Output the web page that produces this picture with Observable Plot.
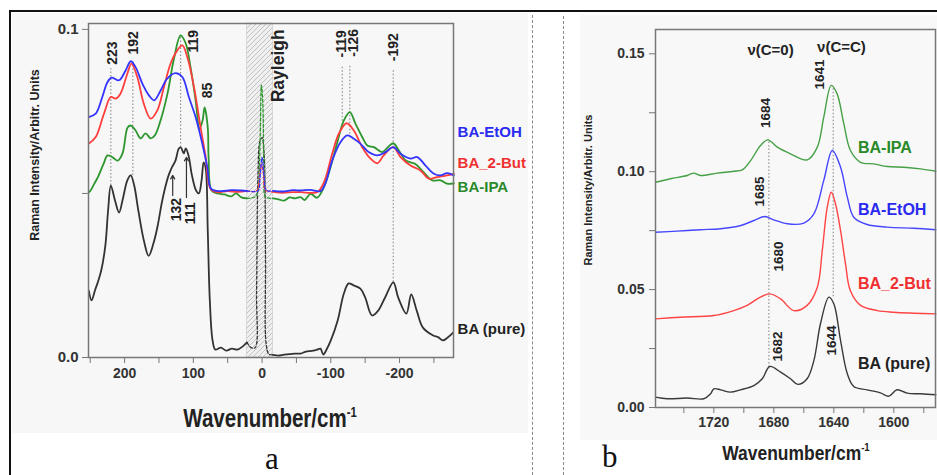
<!DOCTYPE html>
<html>
<head>
<meta charset="utf-8">
<script src="https://cdn.jsdelivr.net/npm/d3@7"></script>
<script src="https://cdn.jsdelivr.net/npm/@observablehq/plot@0.6"></script>
<style>
  html, body { margin: 0; padding: 0; background: #fff; }
  #page { position: relative; width: 937px; height: 475px; overflow: hidden; background: #fff;
          font-family: "Liberation Sans", Arial, sans-serif; }
  .abs { position: absolute; }
  .ttl { position: absolute; font-weight: bold; white-space: nowrap; line-height: 1; color: #222; }
  .ttl sup { font-size: 0.55em; line-height: 0; vertical-align: 0.75em; }
  .panelLetter { position: absolute; font-family: "Liberation Serif", "Times New Roman", serif; font-size: 31px; line-height: 26px; height: 26px; color: #111; }
</style>
</head>
<body>
<div id="page">
  <div class="abs" style="left:12px;top:13px;width:516px;height:420px;background:#f7f7f7"></div>
  <div class="abs" style="left:580px;top:15px;width:357px;height:425px;background:#f8f8f8"></div>
  <div id="plotA" class="abs" style="left:0;top:0;width:533px;height:440px"></div>
  <div id="plotB" class="abs" style="left:560px;top:0;width:377px;height:440px"></div>
  <div class="abs" style="left:9px;top:10px;width:928px;height:2px;background:#111"></div>
  <div class="abs" style="left:9px;top:10px;width:2px;height:465px;background:#111"></div>
  <div class="abs" style="left:532px;top:15px;height:460px;border-left:1px dashed #8a8a8a"></div>
  <div class="abs" style="left:563px;top:16px;height:459px;border-left:1px dashed #8a8a8a"></div>
  <div class="ttl" style="left:270px;top:406px;font-size:25px;transform:translateX(-50%) scaleX(0.82);transform-origin:50% 50%">Wavenumber/cm<sup>-1</sup></div>
  <div class="ttl" style="left:796px;top:442px;font-size:21px;transform:translateX(-50%) scaleX(0.83);transform-origin:50% 50%">Wavenumber/cm<sup>-1</sup></div>
  <div class="ttl" style="left:35px;top:155px;font-size:12.5px;transform:translate(-50%,-50%) rotate(-90deg)">Raman Intensity/Arbitr. Units</div>
  <div class="ttl" style="left:588px;top:190px;font-size:11px;transform:translate(-50%,-50%) rotate(-90deg)">Raman Intensity/Arbitr. Units</div>
  <div class="panelLetter" style="left:265px;top:446px">a</div>
  <div class="panelLetter" style="left:602px;top:444px">b</div>
</div>
<script>
// ---------------- Panel a data (low-frequency Raman) ----------------
const aMajorX = [200, 100, 0, -100, -200];
const aMajorXLabels = ["200", "100", "0", "-100", "-200"];
const aMinorX = [250, 150, 50, -50, -150, -250];
const aYTicks = [0, 0.1];
const aYLabels = ["0.0", "0.1"];
const aYMinor = [0.05];
const aRayleigh = [[22, -16]];

const aPureL = [[252,0.0204],[248,0.0174],[243,0.0205],[239,0.0229],[234,0.0265],[228,0.0341],[224,0.0448],[220,0.0524],[214,0.0479],[208,0.0442],[203,0.0479],[196,0.054],[191,0.0555],[186,0.0524],[180,0.0448],[172,0.0357],[165,0.031],[158,0.0348],[152,0.040],[146,0.047],[142,0.0509],[136,0.0555],[132,0.0576],[126,0.06],[121,0.0637],[118,0.064],[114,0.0622],[111,0.0637],[107,0.0616],[102,0.0555],[96,0.0509],[92,0.05],[88,0.054],[85,0.0595],[82,0.0576],[79,0.0387],[76,0.0174],[72,0.0052],[68,0.0024],[60,0.003],[52,0.0021],[44,0.0027],[36,0.0024],[28,0.0034],[22,0.0046]];
const aPureRay = [[22,0.0046],[16,0.003],[10,0.003],[8,0.02],[6,0.055],[3,0.066],[0,0.067],[-3,0.062],[-5,0.03],[-6,0.004],[-10,0.001],[-16,0.0008]];
const aPureR = [[-16,0.0008],[-24,0.0006],[-32,0.0009],[-40,0.001],[-48,0.0012],[-56,0.0012],[-64,0.0018],[-72,0.002],[-80,0.0024],[-85,0.0027],[-89,0.0009],[-94,0.0025],[-100,0.0052],[-110,0.0113],[-119,0.0195],[-126,0.0226],[-133,0.022],[-143,0.021],[-150,0.0183],[-160,0.0128],[-169,0.0143],[-179,0.0183],[-191,0.0229],[-198,0.0183],[-210,0.0134],[-217,0.0192],[-225,0.0143],[-234,0.0091],[-249,0.0067],[-256,0.0062],[-263,0.0052],[-270,0.0061],[-278,0.0076]];

const aIpaL = [[252,0.0503],[249.5,0.0509],[244,0.053],[239,0.0549],[230.5,0.0591],[224.7,0.0616],[217.5,0.061],[210,0.06],[203,0.0622],[195.6,0.0701],[191,0.0707],[184,0.0692],[176.7,0.0668],[169.5,0.0683],[162,0.0668],[156,0.0677],[147.6,0.0723],[137.5,0.0805],[128.7,0.0905],[118.5,0.0982],[111,0.0957],[104,0.0884],[96.7,0.0784],[91,0.0698],[86.5,0.0723],[83.6,0.0762],[79,0.0701],[77.8,0.061],[73.5,0.0509],[64.7,0.05],[55,0.0497],[45,0.0491],[38,0.05],[30,0.0488],[22,0.0485]];
const aIpaRay = [[22,0.0485],[10,0.049],[6,0.051],[3,0.065],[1,0.083],[-1,0.078],[-3,0.055],[-5,0.049],[-16,0.0485]];
const aIpaR = [[-16,0.0485],[-24,0.0482],[-32,0.0478],[-40,0.0488],[-48,0.0485],[-56,0.0489],[-62,0.048],[-70.5,0.0499],[-80,0.0487],[-90,0.0519],[-99.6,0.058],[-109,0.0652],[-119,0.0723],[-127.7,0.0748],[-136,0.0712],[-145.7,0.0672],[-153,0.0646],[-162.6,0.0641],[-174.8,0.0626],[-183,0.0641],[-190.8,0.0653],[-199,0.0631],[-208.7,0.0601],[-216,0.0595],[-223,0.059],[-235,0.0565],[-247.6,0.054],[-259.6,0.054],[-269,0.053],[-279,0.0531]];

const aButL = [[252,0.0652],[242,0.0672],[230,0.0743],[220,0.0794],[213,0.0789],[206,0.0804],[196,0.0865],[190,0.0896],[181.5,0.0855],[172,0.0773],[162,0.0728],[152.4,0.0753],[142.8,0.0824],[133,0.0896],[123.3,0.0936],[116,0.0951],[108.8,0.0916],[99,0.0824],[89.5,0.0702],[82,0.0611],[75,0.0514],[65,0.0504],[50,0.0507],[35,0.0505],[22,0.0508]];
const aButRay = [[22,0.0508],[8,0.0508],[4,0.054],[1,0.059],[-2,0.056],[-5,0.051],[-16,0.0505]];
const aButR = [[-16,0.0505],[-30,0.0502],[-45,0.0504],[-56,0.0504],[-80,0.0504],[-90,0.0534],[-102,0.0621],[-111.7,0.0682],[-123,0.0714],[-133.5,0.0692],[-145.7,0.0641],[-157.8,0.0606],[-167.6,0.0592],[-177,0.0616],[-190.8,0.0641],[-201.5,0.0611],[-216,0.0585],[-230.5,0.057],[-242.6,0.0545],[-254.8,0.055],[-269,0.0555],[-279,0.056]];

const aEtohL = [[252,0.0733],[242,0.0743],[232.4,0.0794],[225,0.0839],[219,0.0853],[208,0.0845],[198.5,0.0875],[191,0.0903],[184,0.0885],[174,0.0834],[164.6,0.0799],[157,0.0784],[147.6,0.0814],[138,0.085],[125.8,0.0867],[116,0.0855],[106.5,0.0794],[96.7,0.0733],[87,0.0652],[79.7,0.058],[74,0.0514],[60,0.0507],[45,0.051],[30,0.0509],[22,0.0508]];
const aEtohRay = [[22,0.0508],[6,0.0508],[3,0.055],[0,0.061],[-3,0.055],[-6,0.051],[-16,0.0508]];
const aEtohR = [[-16,0.0508],[-30,0.0506],[-45,0.051],[-56,0.0509],[-70,0.0511],[-85,0.0507],[-92,0.053],[-102,0.06],[-114,0.0656],[-124,0.0677],[-133.5,0.0667],[-143,0.0652],[-155,0.0626],[-167.6,0.0616],[-179.6,0.0626],[-190.8,0.0641],[-201.5,0.0621],[-216,0.0606],[-225.7,0.0611],[-237.8,0.0585],[-250,0.056],[-259.6,0.0555],[-269,0.0562],[-279,0.0555]];

const aPeakX = [220, 188, 118.5, -116.7, -127.7, -190.8];
const aPeakTop = [0.088, 0.0902, 0.098, 0.089, 0.089, 0.0875];
const aPeakBottom = [0.0524, 0.0555, 0.064, 0.072, 0.067, 0.0229];

const aLabelText = ["223", "192", "119", "85", "132", "111", "-119", "-126", "-192"];
const aLabelX = [217, 186.5, 100, 79, 124.4, 104, -115.6, -133.5, -191.7];
const aLabelY = [0.0928, 0.0959, 0.0964, 0.0814, 0.0451, 0.0439, 0.0956, 0.0959, 0.0946];

const aArrowX = [130, 110];
const aArrowFrom = [0.0494, 0.0488];
const aArrowTo = [0.0555, 0.061];

const seriesNames = ["BA-EtOH", "BA_2-But", "BA-IPA", "BA (pure)"];
const seriesColors = ["#2a2af0", "#f03030", "#2a8a2a", "#222222"];
const aLegendX = -284.4;
const aLegendY = [0.0687, 0.0592, 0.0519, 0.0087];

// ---------------- Panel b data (C=O / C=C region) ----------------
const bMajorX = [1720, 1680, 1640, 1600];
const bMajorXLabels = ["1720", "1680", "1640", "1600"];
const bMinorX = [1740, 1700, 1660, 1620, 1580];
const bYTicks = [0, 0.05, 0.1, 0.15];
const bYLabels = ["0.00", "0.05", "0.10", "0.15"];
const bYMinor = [0.025, 0.075, 0.125];

const bIpa = [[1758.9,0.0955],[1748.9,0.097],[1737.7,0.0984],[1733.3,0.0994],[1729,0.0984],[1717.8,0.0994],[1706.7,0.1002],[1701,0.1008],[1695.5,0.1047],[1688.9,0.1111],[1684,0.1135],[1677.7,0.1104],[1668.9,0.1076],[1657.7,0.105],[1651,0.1104],[1646.7,0.1231],[1641.7,0.1366],[1637.8,0.133],[1633.3,0.1203],[1628.9,0.109],[1622.2,0.104],[1613.3,0.1033],[1604.4,0.1022],[1593.3,0.1019],[1582.2,0.1012],[1572,0.1002]];
const bEtoh = [[1758.9,0.0743],[1744.4,0.0748],[1729,0.0754],[1715.5,0.0758],[1702,0.0772],[1693.3,0.0793],[1686,0.081],[1680,0.0796],[1671,0.0779],[1660,0.0782],[1653.3,0.0821],[1646.7,0.0963],[1641,0.109],[1635.5,0.1019],[1631,0.0892],[1626.7,0.0807],[1617.8,0.0776],[1604.4,0.0765],[1586.7,0.076],[1572,0.0754]];
const bBut = [[1758.9,0.0376],[1742.2,0.0383],[1720,0.039],[1706.7,0.0411],[1697.8,0.0433],[1689,0.0468],[1682.7,0.0482],[1675.5,0.0461],[1666.7,0.0411],[1657.8,0.0433],[1651,0.051],[1647.7,0.0666],[1644.4,0.0849],[1641.7,0.0913],[1638.9,0.0864],[1635.5,0.075],[1632.2,0.0609],[1629,0.0496],[1622.2,0.0433],[1611,0.0411],[1600,0.0404],[1586.7,0.04],[1572,0.0397]];
const bPure = [[1758.9,0.0044],[1751,0.0037],[1737.8,0.004],[1726.7,0.0037],[1722.2,0.0058],[1720,0.0079],[1715.5,0.0075],[1708.9,0.0065],[1702.2,0.0075],[1693.3,0.0093],[1687.7,0.0122],[1682.7,0.0174],[1675.5,0.015],[1668.9,0.0122],[1664,0.0098],[1657.8,0.0122],[1653.3,0.0199],[1648.9,0.0355],[1643.3,0.0468],[1640,0.044],[1635.5,0.0284],[1631,0.0143],[1626.7,0.0089],[1617.8,0.0075],[1608.9,0.0062],[1603.3,0.0048],[1597.8,0.0075],[1591.1,0.0061],[1582.2,0.0058],[1572,0.0054]];

const bPeakX = [1683.3, 1640.4];
const bPeakTop = [0.113, 0.136];
const bPeakBottom = [0.017, 0.047];

const bLabelText = ["1641", "1684", "1685", "1680", "1682", "1644"];
const bLabelX = [1649.3, 1685.5, 1689.3, 1676.7, 1677.7, 1641.7];
const bLabelY = [0.1412, 0.1249, 0.0916, 0.064, 0.0259, 0.0284];

const bModeText = ["\u03bd(C=0)", "\u03bd(C=C)"];
const bModeX = [1682.2, 1634.9];
const bModeY = [0.1514, 0.1527];

const bLegendNames = ["BA-IPA", "BA-EtOH", "BA_2-But", "BA (pure)"];
const bLegendColors = ["#2a8a2a", "#2a2af0", "#f03030", "#222222"];
const bLegendX = 1623.9;
const bLegendY = [0.110, 0.0838, 0.0525, 0.0185];

// ---------------- helpers ----------------
const X = d => d[0], Y = d => d[1];
const FONT = "'Liberation Sans', Arial, sans-serif";
const ns = "http://www.w3.org/2000/svg";

// ---------------- Panel a ----------------
const aLabels = aLabelText.map((t, i) => ({t, x: aLabelX[i], y: aLabelY[i]}));
const aPeaks = aPeakX.map((x, i) => ({x, y1: aPeakBottom[i], y2: aPeakTop[i]}));
const aArrows = aArrowX.map((x, i) => ({x, y1: aArrowFrom[i], y2: aArrowTo[i]}));
const aLegend = seriesNames.map((t, i) => ({t, c: seriesColors[i], y: aLegendY[i]}));

const lineA = (data, color, dash) => Plot.line(data, {x: X, y: Y, stroke: color, strokeWidth: dash ? 1.3 : 1.8, curve: "catmull-rom", strokeDasharray: dash ? "3,2" : null});

const plotA = Plot.plot({
  width: 533, height: 440,
  marginLeft: 88, marginRight: 80, marginTop: 23, marginBottom: 83,
  style: {background: "transparent", fontFamily: FONT, fontWeight: "bold", color: "#333", overflow: "visible"},
  x: {domain: [252.5, -278.5]},
  y: {domain: [0, 0.1018]},
  marks: [
    Plot.rect(aRayleigh, {x1: d => d[0], x2: d => d[1], y1: 0, y2: 0.1018, fill: "url(#hatchA)", stroke: "#c8c8c8", strokeWidth: 0.6}),
    Plot.ruleX(aPeaks, {x: "x", y1: "y1", y2: "y2", stroke: "#8a8a8a", strokeWidth: 1.1, strokeDasharray: "1.5,2"}),
    lineA(aPureL, "#333"), lineA(aPureRay, "#333", true), lineA(aPureR, "#333"),
    lineA(aIpaL, "#2e962e"), lineA(aIpaRay, "#2e962e", true), lineA(aIpaR, "#2e962e"),
    lineA(aButL, "#ff3d3d"), lineA(aButRay, "#ff3d3d", true), lineA(aButR, "#ff3d3d"),
    lineA(aEtohL, "#3434ff"), lineA(aEtohRay, "#3434ff", true), lineA(aEtohR, "#3434ff"),
    Plot.arrow(aArrows, {x1: "x", x2: "x", y1: "y1", y2: "y2", stroke: "#333", strokeWidth: 1.2, headLength: 5}),
    Plot.frame({stroke: "#777", strokeWidth: 1.5}),
    Plot.axisX({ticks: aMinorX, tickFormat: () => "", tickSize: 6, stroke: "#777", label: null}),
    Plot.axisX({ticks: aMajorX, tickFormat: d => aMajorXLabels[aMajorX.indexOf(d)], tickSize: 6, tickPadding: 5, stroke: "#777", fill: "#333", fontSize: 14, fontWeight: "bold", label: null}),
    Plot.axisY({ticks: aYMinor, tickFormat: () => "", tickSize: 6, stroke: "#777", label: null}),
    Plot.axisY({ticks: aYTicks, tickFormat: d => aYLabels[aYTicks.indexOf(d)], tickSize: 6, tickPadding: 4, stroke: "#777", fill: "#333", fontSize: 15, fontWeight: "bold", label: null}),
    Plot.text(aLabels, {x: "x", y: "y", text: "t", rotate: -90, fontSize: 14, fontWeight: "bold", fill: "#222"}),
    Plot.text(["Rayleigh"], {x: -24, y: 0.0889, text: d => d, rotate: -90, fontSize: 17.5, fontWeight: "bold", fill: "#222"}),
    Plot.text(aLegend, {x: aLegendX, y: "y", text: "t", fill: "c", textAnchor: "start", fontSize: 15, fontWeight: "bold"})
  ]
});
{
  const defs = document.createElementNS(ns, "defs");
  defs.innerHTML = '<pattern id="hatchA" patternUnits="userSpaceOnUse" width="5" height="5"><rect width="5" height="5" fill="#efefef"/><path d="M-1,1 l2,-2 M0,5 l5,-5 M4,6 l2,-2" stroke="#c2c2c2" stroke-width="1"/></pattern>';
  plotA.insertBefore(defs, plotA.firstChild);
}
document.getElementById("plotA").appendChild(plotA);

// ---------------- Panel b ----------------
const bLabels = bLabelText.map((t, i) => ({t, x: bLabelX[i], y: bLabelY[i]}));
const bModes = bModeText.map((t, i) => ({t, x: bModeX[i], y: bModeY[i]}));
const bPeaks = bPeakX.map((x, i) => ({x, y1: bPeakBottom[i], y2: bPeakTop[i]}));
const bLegend = bLegendNames.map((t, i) => ({t, c: bLegendColors[i], y: bLegendY[i]}));
const lineB = (data, color) => Plot.line(data, {x: X, y: Y, stroke: color, strokeWidth: 1.4, curve: "catmull-rom"});

const plotB = Plot.plot({
  width: 377, height: 440,
  marginLeft: 95, marginRight: 2, marginTop: 29, marginBottom: 33,
  style: {background: "transparent", fontFamily: FONT, fontWeight: "bold", color: "#333", overflow: "visible"},
  x: {domain: [1758.9, 1572.2]},
  y: {domain: [0, 0.1603]},
  marks: [
    Plot.ruleX(bPeaks, {x: "x", y1: "y1", y2: "y2", stroke: "#8a8a8a", strokeWidth: 1.1, strokeDasharray: "1.5,2"}),
    lineB(bPure, "#3a3a3a"),
    lineB(bBut, "#ff4444"),
    lineB(bEtoh, "#4646ff"),
    lineB(bIpa, "#46a046"),
    Plot.frame({stroke: "#777", strokeWidth: 1.5}),
    Plot.axisX({ticks: bMinorX, tickFormat: () => "", tickSize: 6, stroke: "#777", label: null}),
    Plot.axisX({ticks: bMajorX, tickFormat: d => bMajorXLabels[bMajorX.indexOf(d)], tickSize: 6, tickPadding: 4, stroke: "#777", fill: "#333", fontSize: 14, fontWeight: "bold", label: null}),
    Plot.axisY({ticks: bYMinor, tickFormat: () => "", tickSize: 6, stroke: "#777", label: null}),
    Plot.axisY({ticks: bYTicks, tickFormat: d => bYLabels[bYTicks.indexOf(d)], tickSize: 6, tickPadding: 5, stroke: "#777", fill: "#333", fontSize: 14, fontWeight: "bold", label: null}),
    Plot.text(bLabels, {x: "x", y: "y", text: "t", rotate: -90, fontSize: 13.5, fontWeight: "bold", fill: "#222"}),
    Plot.text(bModes, {x: "x", y: "y", text: "t", fontSize: 15, fontWeight: "bold", fill: "#222"}),
    Plot.text(bLegend, {x: bLegendX, y: "y", text: "t", fill: "c", textAnchor: "start", fontSize: 16, fontWeight: "bold"})
  ]
});
document.getElementById("plotB").appendChild(plotB);
</script>
</body>
</html>
